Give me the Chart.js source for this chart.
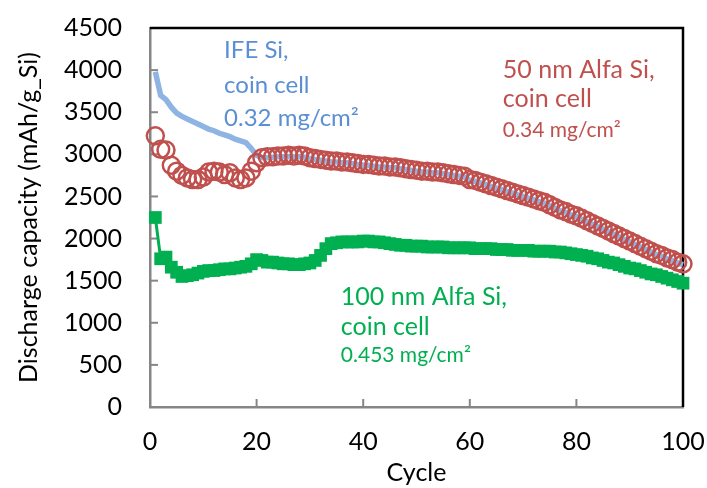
<!DOCTYPE html>
<html><head><meta charset="utf-8">
<script src="https://cdn.jsdelivr.net/npm/chart.js@4.4.0/dist/chart.umd.min.js"></script>
<style>html,body{margin:0;padding:0;background:#fff;}#wrap{width:707px;height:488px;position:relative;}</style>
</head><body><div id="wrap"><canvas id="c" width="707" height="488"></canvas></div>
<script>
const cycles = [1,2,3,4,5,6,7,8,9,10,11,12,13,14,15,16,17,18,19,20,
21,22,23,24,25,26,27,28,29,30,31,32,33,34,35,36,37,38,39,40,
41,42,43,44,45,46,47,48,49,50,51,52,53,54,55,56,57,58,59,60,
61,62,63,64,65,66,67,68,69,70,71,72,73,74,75,76,77,78,79,80,
81,82,83,84,85,86,87,88,89,90,91,92,93,94,95,96,97,98,99,100];

const ifeSi = [3980,3700,3650,3560,3490,3450,3420,3390,3360,3330,3300,3280,3250,3230,3210,3180,3160,3140,3070,2990,
2960,2960,2965,2970,2970,2975,2970,2975,2965,2950,2940,2930,2920,2910,2910,2900,2900,2890,2880,2870,
2870,2860,2850,2850,2840,2840,2830,2820,2810,2800,2790,2790,2780,2780,2770,2760,2750,2740,2730,2690,
2680,2660,2640,2620,2600,2580,2560,2540,2520,2500,2480,2460,2440,2420,2390,2360,2330,2310,2280,2260,
2230,2200,2170,2140,2110,2080,2050,2020,1990,1960,1930,1900,1870,1840,1810,1790,1760,1740,1710,1690];

const alfa50 = [3220,3060,3050,2870,2800,2750,2720,2700,2700,2730,2790,2800,2790,2760,2780,2720,2700,2720,2800,2900,
2960,2970,2970,2980,2980,2990,2980,2990,2980,2960,2950,2940,2930,2920,2920,2910,2910,2900,2890,2880,
2880,2870,2860,2860,2850,2850,2840,2830,2820,2810,2800,2800,2790,2790,2780,2770,2760,2750,2740,2700,
2690,2670,2650,2630,2610,2590,2570,2550,2530,2510,2490,2470,2450,2430,2400,2370,2340,2320,2290,2270,
2240,2210,2180,2150,2120,2090,2060,2030,2000,1970,1940,1910,1880,1850,1820,1800,1770,1750,1720,1700];

const alfa100 = [2250,1760,1780,1660,1600,1550,1560,1570,1590,1610,1620,1620,1630,1640,1640,1650,1660,1670,1700,1750,
1740,1720,1720,1710,1700,1700,1690,1690,1700,1710,1740,1800,1880,1940,1950,1960,1960,1960,1960,1970,
1970,1960,1960,1950,1940,1930,1920,1920,1910,1910,1910,1900,1900,1900,1900,1890,1890,1890,1890,1890,
1880,1880,1880,1880,1870,1870,1870,1860,1860,1860,1860,1850,1850,1850,1850,1840,1840,1830,1820,1810,
1800,1790,1770,1760,1740,1720,1710,1690,1670,1650,1640,1620,1600,1580,1570,1550,1530,1510,1490,1470];

const xTicks = [0,20,40,60,80,100];
const yTicks = [0,500,1000,1500,2000,2500,3000,3500,4000,4500];

const FONT = 'Lato';
const toXY = arr => arr.map((v,i)=>({x:cycles[i], y:v}));

const labels = [
  {lines:['IFE Si,','coin cell','0.32 mg/cm²'], sizes:[24,24,24], color:'#5b8fd3', x:13.9, y:[4238,3822,3430]},
  {lines:['50 nm Alfa Si,','coin cell','0.34 mg/cm²'], sizes:[25,25,21], color:'#c0504d', x:66.2, y:[4000,3656,3288]},
  {lines:['100 nm Alfa Si,','coin cell','0.453 mg/cm²'], sizes:[25,25,21], color:'#00b050', x:35.8, y:[1306,950,617]}
];

const framePlugin = {
  id:'frame',
  beforeDatasetsDraw(chart){
    const {ctx, chartArea:a, scales:{x,y}} = chart;
    ctx.save();
    ctx.strokeStyle='#868686'; ctx.lineWidth=2;
    xTicks.forEach(v=>{const px=x.getPixelForValue(v); ctx.beginPath(); ctx.moveTo(px,a.bottom); ctx.lineTo(px,a.bottom-8); ctx.stroke();});
    yTicks.forEach(v=>{const py=y.getPixelForValue(v); ctx.beginPath(); ctx.moveTo(a.left,py); ctx.lineTo(a.left+8,py); ctx.stroke();});
    ctx.strokeStyle='#000'; ctx.lineWidth=2.5;
    ctx.beginPath(); ctx.moveTo(a.left,a.top); ctx.lineTo(a.right,a.top); ctx.lineTo(a.right,a.bottom); ctx.stroke();
    ctx.restore();
  },
  afterDatasetsDraw(chart){
    const {ctx, scales:{x,y}} = chart;
    ctx.save();
    ctx.textAlign='left'; ctx.textBaseline='middle';
    labels.forEach(l=>{
      ctx.fillStyle=l.color;
      l.lines.forEach((t,i)=>{
        ctx.font = l.sizes[i]+'px '+FONT;
        ctx.fillText(t, x.getPixelForValue(l.x), y.getPixelForValue(l.y[i]));
      });
    });
    ctx.restore();
  }
};

new Chart(document.getElementById('c'), {
  type:'scatter',
  data:{datasets:[
    {label:'50 nm Alfa Si', data:toXY(alfa50), showLine:false, pointStyle:'circle', pointRadius:8.5, pointBorderWidth:2.5,
     borderColor:'#c0504d', backgroundColor:'rgba(0,0,0,0)', clip:false, order:0},
    {label:'100 nm Alfa Si', data:toXY(alfa100), showLine:true, borderColor:'#00b050', borderWidth:3, pointStyle:'rect', pointRadius:9,
     pointBorderWidth:0, backgroundColor:'#00b050', pointBackgroundColor:'#00b050', clip:false, order:1},
    {label:'IFE Si', data:toXY(ifeSi), showLine:true, borderColor:'#8eb4e3', borderWidth:5.5, pointRadius:0, tension:0, clip:false, order:2}
  ]},
  options:{
    responsive:false, animation:false, devicePixelRatio:1,
    layout:{padding:{top:28,right:24,left:0,bottom:0}},
    plugins:{legend:{display:false}, tooltip:{enabled:false}},
    scales:{
      x:{type:'linear', min:0, max:100,
         afterBuildTicks: s=>{s.ticks = xTicks.map(v=>({value:v}));},
         afterFit: s=>{s.height = 81; s.paddingLeft = 0; s.paddingRight = 0;},
         grid:{display:false, drawTicks:false},
         border:{display:true, color:'#868686', width:2.5},
         ticks:{padding:20, color:'#000', font:{family:FONT, size:25}, callback:v=>String(v)},
         title:{display:true, text:'Cycle', color:'#000', font:{family:FONT, size:25}, padding:{top:0,bottom:0}}},
      y:{type:'linear', min:0, max:4500,
         afterBuildTicks: s=>{s.ticks = yTicks.map(v=>({value:v}));},
         afterFit: s=>{s.width = 150; s.paddingTop = 0; s.paddingBottom = 0;},
         grid:{display:false, drawTicks:false},
         border:{display:true, color:'#868686', width:2.5},
         ticks:{padding:28, color:'#000', font:{family:FONT, size:25}, callback:v=>String(v)},
         title:{display:true, text:'Discharge capacity (mAh/g_Si)', color:'#000', font:{family:FONT, size:25}, padding:{top:14,bottom:0}}}
    }
  },
  plugins:[framePlugin]
});
</script></body></html>
